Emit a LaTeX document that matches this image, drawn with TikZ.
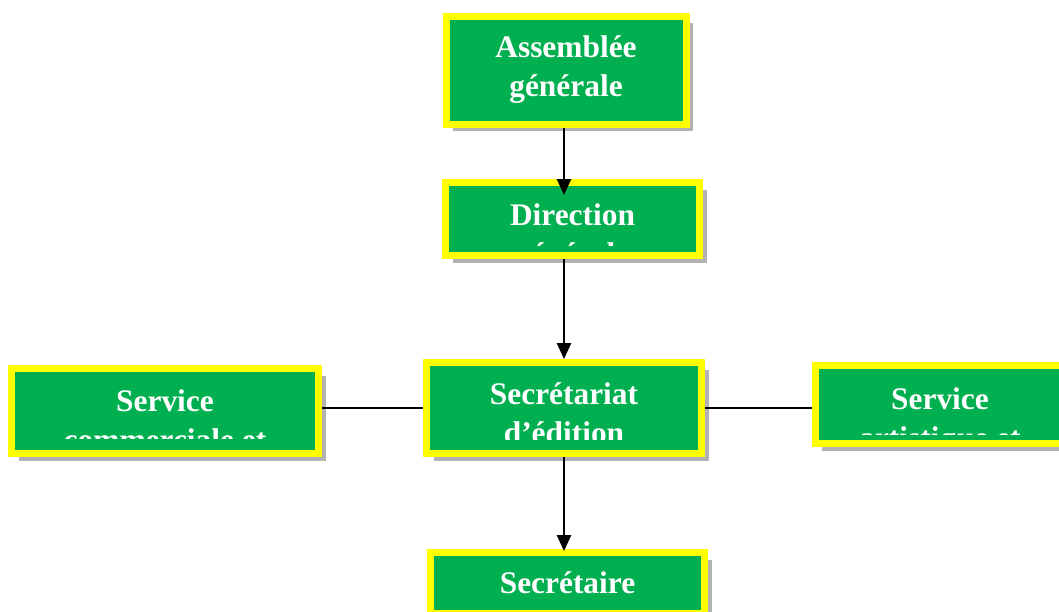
\documentclass[tikz,border=0pt]{standalone}
\usepackage{fontspec}
\setmainfont{Liberation Serif}
\usetikzlibrary{arrows.meta,shadows}
\definecolor{vert}{HTML}{00AF50}
\definecolor{jaune}{HTML}{FFFF00}
\tikzset{
  boite/.style={draw=jaune, fill=vert, line width=3.5pt, inner sep=0pt,
    drop shadow={shadow xshift=3.5pt, shadow yshift=-3.5pt, fill=black!30, opacity=1}},
  texte/.style={text=white, font=\fontsize{15.7}{19.5}\selectfont\bfseries, align=center, inner sep=0pt},
  fleche/.style={-{Triangle[width=7pt,length=8pt]}, line width=1.3pt},
  lien/.style={line width=0.6pt}
}
\begin{document}
\begin{tikzpicture}[x=0.5pt,y=-0.5pt]
  \useasboundingbox (0,0) rectangle (1059,611);
  % boites
  \node [boite, texte, minimum width=120pt, minimum height=54pt] (assemblee) at (566,70) {Assemblée\\générale};
  \node [boite, minimum width=127pt, minimum height=36.5pt] (direction) at (572.5,219) {};
  \node [boite, minimum width=137.5pt, minimum height=45.5pt] (secretariat) at (564,408) {};
  \node [boite, minimum width=153.5pt, minimum height=42.5pt] (commercial) at (165,411) {};
  \node [boite, minimum width=130pt, minimum height=39pt] (artistique) at (945,404.5) {};
  \node [boite, texte, minimum width=137pt, minimum height=30.5pt] (secretaire) at (567.5,583) {Secrétaire};
  % textes coupes
  \begin{scope}
    \clip (direction.north west) rectangle (direction.east |- 0,245);
    \node [texte, anchor=north] (direction-texte) at (direction.center |- 0,203) {Direction\\générale};
  \end{scope}
  \begin{scope}
    \clip (secretariat.north west) rectangle (secretariat.east |- 0,439);
    \node [texte, anchor=north] (secretariat-texte) at (secretariat.center |- 0,382) {Secrétariat\\d’édition};
  \end{scope}
  \begin{scope}
    \clip (commercial.north west) rectangle (commercial.east |- 0,438);
    \node [texte, anchor=north] (commercial-texte) at (commercial.center |- 0,389) {Service\\commerciale et};
  \end{scope}
  \begin{scope}
    \clip (artistique.north west) rectangle (artistique.east |- 0,434);
    \node [texte, anchor=north] (artistique-texte) at (940,387) {Service\\artistique et};
  \end{scope}
  % liens
  \draw [fleche] ([xshift=-1pt]assemblee.south) -- ([xshift=-1pt,yshift=-8pt]assemblee.south |- direction.north);
  \draw [fleche] (secretariat.north |- direction.south) -- (secretariat.north);
  \draw [fleche] (secretariat.south) -- ([yshift=-1pt]secretariat.south |- secretaire.north);
  \draw [lien] (secretariat.west -| commercial.east) -- (secretariat.west);
  \draw [lien] (secretariat.east) -- (secretariat.east -| artistique.west);
\end{tikzpicture}
\end{document}
